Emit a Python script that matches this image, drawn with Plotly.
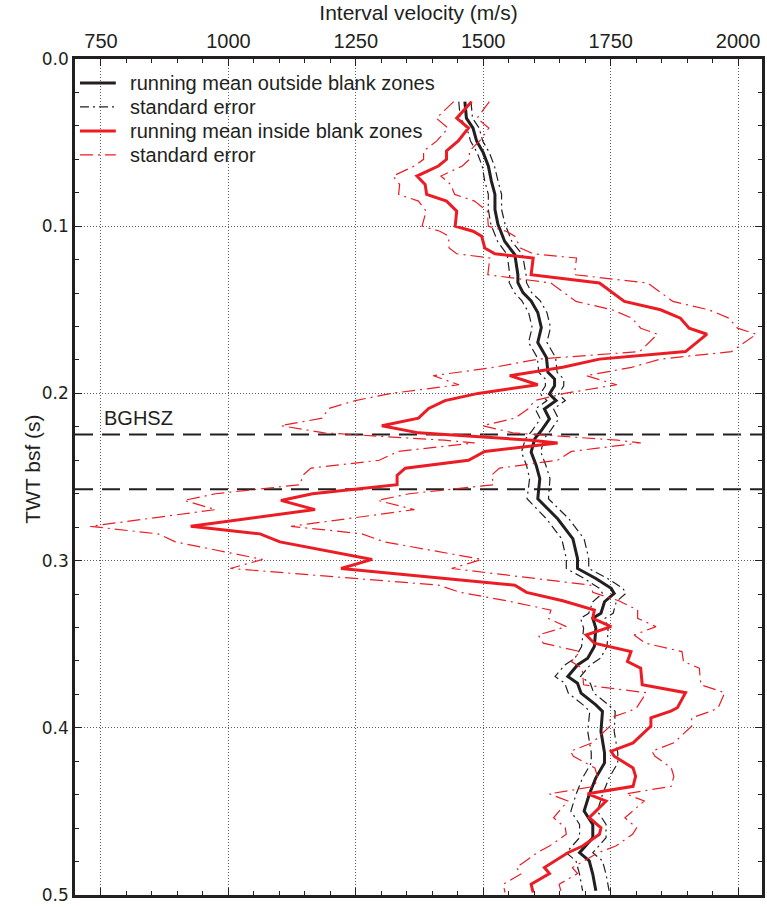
import numpy as np
import plotly.graph_objects as go

# Running mean of interval velocity outside blank zones (TWT s, m/s) and its standard error
out_twt = [0.0255, 0.0354, 0.0413, 0.049, 0.056, 0.064, 0.073, 0.081, 0.090, 0.099,
           0.102, 0.109, 0.117, 0.129, 0.1338, 0.1397, 0.1447, 0.1516, 0.1606, 0.1695,
           0.1785, 0.1874, 0.1914, 0.1954, 0.2004, 0.2043, 0.2093, 0.2153, 0.2222, 0.2272,
           0.2351, 0.2431, 0.251, 0.263, 0.275, 0.287, 0.2987, 0.3047, 0.3107, 0.3166,
           0.3196, 0.3246, 0.3315, 0.3345, 0.3405, 0.3514, 0.3584, 0.3624, 0.3693, 0.3733,
           0.3793, 0.3863, 0.3902, 0.4021, 0.415, 0.421, 0.4299, 0.4399, 0.4498, 0.4578,
           0.4657, 0.4747, 0.4796, 0.4876, 0.4975]
out_vel = [1464, 1467, 1480, 1487, 1500, 1510, 1516, 1523, 1523, 1529,
           1533, 1542, 1562, 1568, 1568, 1578, 1594, 1607, 1614, 1607,
           1624, 1627, 1640, 1640, 1630, 1643, 1620, 1630, 1614, 1601,
           1594, 1604, 1611, 1607, 1646, 1676, 1685, 1685, 1721, 1751,
           1757, 1738, 1731, 1715, 1721, 1718, 1705, 1685, 1666, 1685,
           1692, 1721, 1734, 1731, 1738, 1738, 1721, 1708, 1698, 1715,
           1715, 1689, 1708, 1715, 1721]
out_se = [12, 12, 12, 12, 12, 12, 13, 13, 13, 14,
          14, 14, 15, 16, 17, 17, 18, 18, 18, 18,
          18, 18, 18, 18, 18, 18, 18, 18, 18, 18,
          19, 19, 20, 21, 22, 22, 22, 22, 23, 23,
          23, 23, 24, 24, 24, 25, 25, 25, 25, 25,
          25, 25, 25, 26, 26, 26, 26, 26, 26, 26,
          26, 26, 26, 26, 26]

# Running mean inside blank zones and its standard error
in_twt = [0.0255, 0.0354, 0.0413, 0.049, 0.055, 0.060, 0.064, 0.070, 0.075, 0.081,
          0.085, 0.091, 0.100, 0.103, 0.106, 0.113, 0.1165, 0.119, 0.129, 0.134,
          0.145, 0.150, 0.155, 0.161, 0.1646, 0.175, 0.1795, 0.1844, 0.1894, 0.1948,
          0.200, 0.2043, 0.209, 0.2148, 0.2193, 0.2236, 0.228, 0.2296, 0.2347, 0.240,
          0.2447, 0.249, 0.2546, 0.260, 0.264, 0.2695, 0.2795, 0.284, 0.2888, 0.2993,
          0.3047, 0.3147, 0.319, 0.324, 0.3296, 0.3345, 0.3395, 0.3445, 0.3494, 0.3544,
          0.3604, 0.3643, 0.3743, 0.379, 0.388, 0.390, 0.394, 0.399, 0.409, 0.414,
          0.417, 0.424, 0.429, 0.435, 0.4395, 0.4438, 0.4538, 0.4598, 0.4637, 0.4707,
          0.4747, 0.4836, 0.4872, 0.4936, 0.4985]
in_vel = [1477, 1448, 1471, 1451, 1428, 1428, 1412, 1370, 1386, 1389,
          1428, 1448, 1445, 1480, 1497, 1503, 1523, 1598, 1594, 1728,
          1777, 1848, 1887, 1904, 1939, 1897, 1728, 1656, 1552, 1607,
          1490, 1425, 1393, 1373, 1301, 1373, 1594, 1646, 1503, 1471,
          1347, 1331, 1331, 1165, 1103, 1170, 926, 1062, 1101, 1282,
          1221, 1562, 1585, 1656, 1718, 1715, 1751, 1702, 1718, 1790,
          1783, 1809, 1812, 1897, 1881, 1868, 1829, 1829, 1794, 1751,
          1757, 1794, 1799, 1794, 1705, 1741, 1708, 1731, 1728, 1695,
          1666, 1620, 1630, 1594, 1598]
in_se = [35, 40, 40, 42, 45, 45, 47, 47, 50, 55,
         55, 60, 65, 65, 65, 70, 75, 85, 85, 95,
         95, 95, 95, 95, 97, 90, 120, 135, 150, 155,
         170, 176, 196, 189, 198, 185, 170, 163, 170, 175,
         185, 185, 190, 190, 190, 195, 197, 200, 205, 215,
         217, 149, 130, 110, 85, 88, 88, 94, 100, 100,
         110, 115, 115, 77, 80, 80, 80, 80, 80, 80,
         80, 75, 75, 75, 75, 75, 70, 70, 65, 65,
         60, 55, 55, 55, 55]

# Base of gas hydrate stability zone (two reflections)
bghsz_twt = [0.2246, 0.2574]

x_ticks = [750, 1000, 1250, 1500, 1750, 2000]
y_ticks = [0.0, 0.1, 0.2, 0.3, 0.4, 0.5]

legend_labels = ["running mean outside blank zones", "standard error",
                 "running mean inside blank zones", "standard error"]

BLACK = "#231f20"
RED = "#ec1c24"
SE_DASH_BLACK = "9px,4px,2px,4px"
SE_DASH_RED = "13px,5px,2px,5px"

W, H = 767, 907
ML, MR, MT, MB = 75, 2, 59, 11
PW, PH = W - ML - MR, H - MT - MB


def px_x(px):
    return (px - ML) / PW


def px_y(py):
    return 1 - (py - MT) / PH


ov, ose = np.array(out_vel), np.array(out_se)
iv, ise = np.array(in_vel), np.array(in_se)

fig = go.Figure()

for bound in (ov - ose, ov + ose):
    fig.add_trace(go.Scatter(x=bound, y=out_twt, mode="lines",
                             line=dict(color=BLACK, width=1.2, dash=SE_DASH_BLACK),
                             hoverinfo="skip"))
fig.add_trace(go.Scatter(x=out_vel, y=out_twt, mode="lines",
                         line=dict(color=BLACK, width=3)))

for bound in (iv - ise, iv + ise):
    fig.add_trace(go.Scatter(x=bound, y=in_twt, mode="lines",
                             line=dict(color=RED, width=1.2, dash=SE_DASH_RED),
                             hoverinfo="skip"))
fig.add_trace(go.Scatter(x=in_vel, y=in_twt, mode="lines",
                         line=dict(color=RED, width=3)))

shapes = []
# white backing behind the key so the grid does not run through it
shapes.append(dict(type="rect", xref="paper", yref="paper", layer="between",
                   x0=px_x(77), x1=px_x(460), y0=px_y(166), y1=px_y(68),
                   fillcolor="white", line=dict(width=0)))
for t in bghsz_twt:
    shapes.append(dict(type="line", xref="paper", yref="y", x0=0, x1=1, y0=t, y1=t,
                       layer="between",
                       line=dict(color=BLACK, width=2, dash="18px,9px")))

# key
key_rows = [83, 107, 131, 155]
key_styles = [dict(color=BLACK, width=3), dict(color=BLACK, width=1.2, dash=SE_DASH_BLACK),
              dict(color=RED, width=3), dict(color=RED, width=1.2, dash=SE_DASH_RED)]
annotations = []
for row, style, label in zip(key_rows, key_styles, legend_labels):
    shapes.append(dict(type="line", xref="paper", yref="paper",
                       x0=px_x(80), x1=px_x(116), y0=px_y(row), y1=px_y(row),
                       line=style, layer="above"))
    annotations.append(dict(xref="paper", yref="paper", x=px_x(128), y=px_y(row),
                            text=label, showarrow=False, xanchor="left", yanchor="middle",
                            font=dict(size=20, color=BLACK)))

annotations.append(dict(xref="x", yref="y", x=752, y=0.2145, text="BGHSZ",
                        showarrow=False, xanchor="left", yanchor="middle",
                        font=dict(size=20, color=BLACK)))

# vertical axis title
annotations.append(dict(xref="paper", yref="paper", x=px_x(32), y=px_y(470),
                        text="TWT bsf (s)", textangle=-90, showarrow=False,
                        xanchor="center", yanchor="middle",
                        font=dict(size=21, color=BLACK)))

axis_common = dict(showline=True, linewidth=2.5, linecolor=BLACK, mirror="allticks",
                   ticks="inside", ticklen=7, tickwidth=1.2, tickcolor=BLACK,
                   showgrid=True, gridcolor="#5e5e5e", gridwidth=1, griddash="1px,2px",
                   zeroline=False)

fig.update_xaxes(side="top", range=[699, 2047], tickvals=x_ticks,
                 tickfont=dict(size=20, color=BLACK),
                 minor=dict(dtick=50, ticklen=4, ticks="inside", tickcolor=BLACK,
                            tickwidth=1, showgrid=False),
                 title=dict(text="Interval velocity (m/s)", font=dict(size=21, color=BLACK),
                            standoff=4),
                 **axis_common)
fig.update_yaxes(range=[0.5, 0.0], tickvals=y_ticks, tickformat=".1f",
                 tickfont=dict(size=17, color=BLACK, family="DejaVu Sans"),
                 minor=dict(dtick=0.02, ticklen=4, ticks="inside", tickcolor=BLACK,
                            tickwidth=1, showgrid=False),
                 **axis_common)

fig.update_layout(width=W, height=H, margin=dict(l=ML, r=MR, t=MT, b=MB),
                  paper_bgcolor="white", plot_bgcolor="white", showlegend=False,
                  font=dict(family="Liberation Sans, Arial, sans-serif", color=BLACK),
                  shapes=shapes, annotations=annotations)

fig.write_html("out.html")
